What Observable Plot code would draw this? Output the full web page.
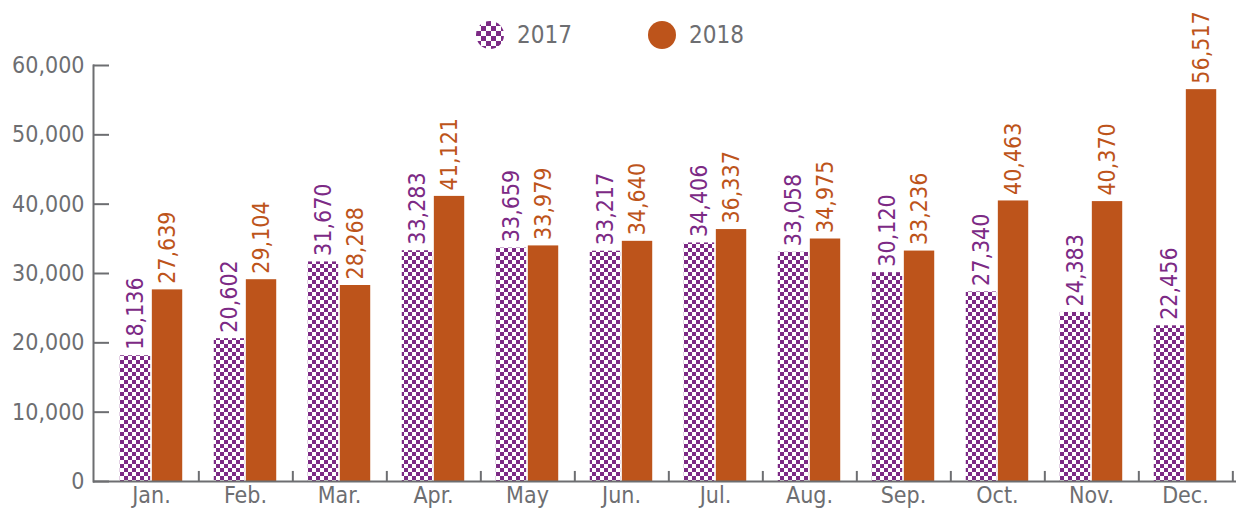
<!DOCTYPE html>
<html>
<head>
<meta charset="utf-8">
<script src="https://cdn.jsdelivr.net/npm/d3@7"></script>
<script src="https://cdn.jsdelivr.net/npm/@observablehq/plot@0.6"></script>
<style>
  html, body { margin: 0; padding: 0; background: #fff; }
  #wrap { position: relative; width: 1239px; height: 517px; }
  #legend { position: absolute; top: 0; left: 0; width: 1239px; height: 60px; pointer-events: none;
    font-family: "DejaVu Sans Condensed", sans-serif; font-size: 24px; color: #6d6e71; }
  .item { position: absolute; top: 21px; display: flex; align-items: center; height: 28px; }
  .item svg { margin-right: 13px; }
</style>
</head>
<body>
<div id="wrap">
  <div id="chart"></div>
  <div id="legend"></div>
</div>
<script>
const months = ["Jan.", "Feb.", "Mar.", "Apr.", "May", "Jun.", "Jul.", "Aug.", "Sep.", "Oct.", "Nov.", "Dec."];
const v2017 = [18136, 20602, 31670, 33283, 33659, 33217, 34406, 33058, 30120, 27340, 24383, 22456];
const v2018 = [27639, 29104, 28268, 41121, 33979, 34640, 36337, 34975, 33236, 40463, 40370, 56517];
const seriesNames = ["2017", "2018"];
const yTicks = [0, 10000, 20000, 30000, 40000, 50000, 60000];

const purple = "#7c2a85";
const orange = "#bd541b";
const grey = "#6d6e71";
const fontFamily = '"DejaVu Sans Condensed", sans-serif';

const data = months.map((m, i) => ({month: m, a: v2017[i], b: v2018[i]}));
const fmt = d3.format(",");

const W = 1239, H = 517, mL = 93, mR = 3, xInset = 7;
const step = (W - mL - mR - xInset) / months.length;
const barW = step / 3;
const outer = step / 2 - barW;
const fs = 23;

const chart = Plot.plot({
  width: W,
  height: H,
  marginLeft: mL,
  marginRight: mR,
  marginTop: 65,
  marginBottom: 36,
  x: {domain: months, padding: 0, insetLeft: xInset, label: null},
  y: {domain: [0, 60000], label: null},
  style: {fontFamily, fontSize: fs + "px", color: grey, background: "white", overflow: "visible"},
  marks: [
    Plot.barY(data, {x: "month", y: "a", fill: "url(#checker)", insetLeft: outer, insetRight: step / 2 + 0.5}),
    Plot.barY(data, {x: "month", y: "b", fill: orange, insetLeft: step / 2 + 0.5, insetRight: outer}),
    Plot.text(data, {x: "month", y: "a", text: d => fmt(d.a), rotate: -90, textAnchor: "start",
      dx: -barW / 2, dy: -6, fill: purple, fontSize: fs}),
    Plot.text(data, {x: "month", y: "b", text: d => fmt(d.b), rotate: -90, textAnchor: "start",
      dx: barW / 2, dy: -6, fill: orange, fontSize: fs}),
    Plot.ruleY([0], {stroke: grey, strokeWidth: 2}),
    Plot.frame({anchor: "left", stroke: grey, strokeWidth: 2}),
    Plot.ruleX(months, {x: d => d, dx: step / 2, y1: 0, y2: 1450, stroke: grey, strokeWidth: 2}),
    Plot.axisY({ticks: yTicks, tickSize: 0, tickPadding: 9, tickFormat: fmt, fontSize: fs}),
    Plot.axisY({ticks: yTicks, tickSize: -16, tickFormat: () => "", stroke: grey, strokeWidth: 2}),
    Plot.axisX({tickSize: 0, tickPadding: 5, fontSize: fs})
  ]
});

const ns = "http://www.w3.org/2000/svg";
function makePattern(id, cell) {
  const p = document.createElementNS(ns, "pattern");
  p.setAttribute("id", id);
  p.setAttribute("patternUnits", "userSpaceOnUse");
  p.setAttribute("width", 2 * cell);
  p.setAttribute("height", 2 * cell);
  const bg = document.createElementNS(ns, "rect");
  bg.setAttribute("width", 2 * cell); bg.setAttribute("height", 2 * cell); bg.setAttribute("fill", "#fff");
  p.appendChild(bg);
  for (const [x, y] of [[0, 0], [cell, cell]]) {
    const r = document.createElementNS(ns, "rect");
    r.setAttribute("x", x); r.setAttribute("y", y);
    r.setAttribute("width", cell); r.setAttribute("height", cell);
    r.setAttribute("fill", purple);
    p.appendChild(r);
  }
  return p;
}
const defs = document.createElementNS(ns, "defs");
defs.appendChild(makePattern("checker", 4));
chart.insertBefore(defs, chart.firstChild);
document.getElementById("chart").appendChild(chart);

// legend
const legend = document.getElementById("legend");
const lefts = [476, 648];
seriesNames.forEach((name, i) => {
  const item = document.createElement("div");
  item.className = "item";
  item.style.left = lefts[i] + "px";
  const s = document.createElementNS(ns, "svg");
  s.setAttribute("width", 28); s.setAttribute("height", 28);
  if (i === 0) {
    const d = document.createElementNS(ns, "defs");
    d.appendChild(makePattern("checkerLegend", 5));
    s.appendChild(d);
  }
  const c = document.createElementNS(ns, "circle");
  c.setAttribute("cx", 14); c.setAttribute("cy", 14); c.setAttribute("r", 14);
  c.setAttribute("fill", i === 0 ? "url(#checkerLegend)" : orange);
  s.appendChild(c);
  item.appendChild(s);
  const t = document.createElement("span");
  t.textContent = name;
  item.appendChild(t);
  legend.appendChild(item);
});
</script>
</body>
</html>
